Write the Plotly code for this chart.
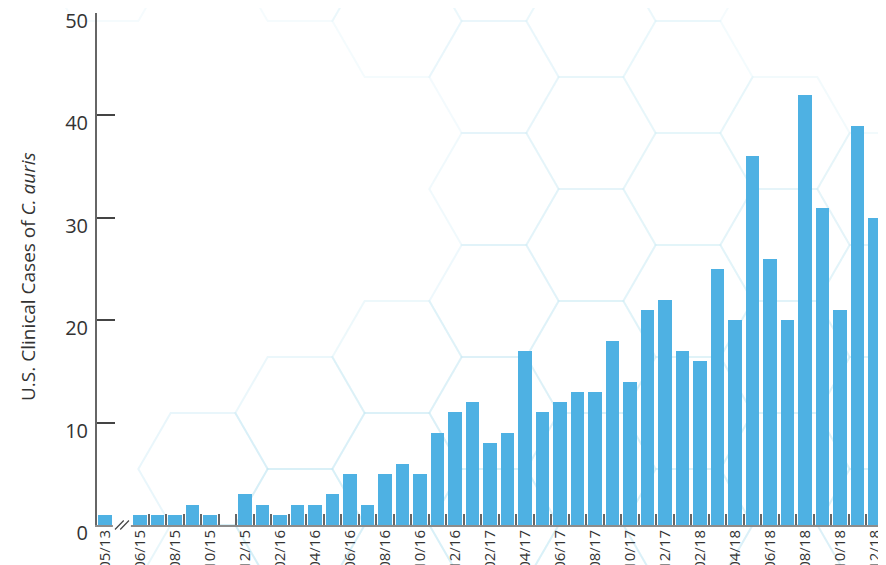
import math
import plotly.graph_objects as go

# ---------------- data ----------------
months = ["05/13",
          "06/15", "07/15", "08/15", "09/15", "10/15", "11/15", "12/15",
          "01/16", "02/16", "03/16", "04/16", "05/16", "06/16", "07/16", "08/16",
          "09/16", "10/16", "11/16", "12/16",
          "01/17", "02/17", "03/17", "04/17", "05/17", "06/17", "07/17", "08/17",
          "09/17", "10/17", "11/17", "12/17",
          "01/18", "02/18", "03/18", "04/18", "05/18", "06/18", "07/18", "08/18",
          "09/18", "10/18", "11/18", "12/18"]
cases = [1,
         1, 1, 1, 2, 1, 0, 3,
         2, 1, 2, 2, 3, 5, 2, 5, 6, 5, 9, 11,
         12, 8, 9, 17, 11, 12, 13, 13, 18, 14, 21, 22,
         17, 16, 25, 20, 36, 26, 20, 42, 31, 21, 39, 30]
y_ticks = [0, 10, 20, 30, 40, 50]
y_title = "U.S. Clinical Cases of <i>C. auris</i>"

# ---------------- layout helpers ----------------
# the page body adds an 8 px offset; work in window pixels and shift
OFF = 8
W, H = 886, 565
PLOT_L, PLOT_R, PLOT_T, PLOT_B = 97, 886, 13, 525   # bar area, window pixels
LBL_SHIFT = 8                                       # y labels sit 8 px below ticks
BOX_B = PLOT_B + 10                                 # bottom of the margin box
ML, MT = PLOT_L - OFF, PLOT_T - OFF
MR = W - (PLOT_R - OFF)
MB = H - (BOX_B - OFF)
PW, BOXH = PLOT_R - PLOT_L, BOX_B - PLOT_T
PH = PLOT_B - PLOT_T
Y_MAX = 50
px_per_unit = PH / Y_MAX

y1_domain = [(BOX_B - PLOT_B) / BOXH, 1]
y2_top = PLOT_T + LBL_SHIFT
y2_domain = [0, (BOX_B - y2_top) / BOXH]
y2_range = [Y_MAX - (BOX_B - y2_top) / px_per_unit, Y_MAX]

GAP = 1  # empty slot after the first bar (axis break)
positions = [0] + [i + 1 + GAP for i in range(len(months) - 1)]
tickvals = [positions[0]] + positions[1::2]
ticktext = [months[0]] + months[1::2]
minor_vals = [p + 0.5 for p in positions[1:-1]]

SLOT_PX = 17.5
X0 = -(105 - PLOT_L) / SLOT_PX
X1 = X0 + PW / SLOT_PX


def xp(px):
    return (px - PLOT_L) / PW


def yp(py):
    return (BOX_B - py) / BOXH


def slot_paper(s):
    return (s - X0) / (X1 - X0)


fig = go.Figure()
fig.add_trace(go.Bar(x=positions, y=cases, width=0.75,
                     marker=dict(color="#4eb1e3", line=dict(width=0)),
                     hoverinfo="skip", showlegend=False))
# empty trace so the label axis exists
fig.add_trace(go.Scatter(x=[], y=[], yaxis="y2", showlegend=False, hoverinfo="skip"))

shapes = []
# decorative honeycomb background
S, HH = 64.67, 56.0
for k in range(-1, 8):
    cx = 203 + 97 * k
    base = 21 if k % 2 == 0 else 77
    for j in range(-2, 7):
        cy = base + 112 * j
        if cy < -40 or cy > 600:
            continue
        # cells left out (blank area in the upper left / right edge)
        if k == -1 and cy > 0:
            continue
        if k in (0, 1, 2) and (56 * k - 40) < cy < (469 - 56 * k):
            continue
        if (k, cy) in [(6, 21), (7, -35), (7, 77)]:
            continue
        pts = [(cx - S, cy), (cx - S / 2, cy - HH), (cx + S / 2, cy - HH),
               (cx + S, cy), (cx + S / 2, cy + HH), (cx - S / 2, cy + HH)]
        path = "M " + " L ".join(f"{xp(a):.5f},{yp(b):.5f}" for a, b in pts) + " Z"
        t = min(max((cy + 35) / 560, 0), 1)
        a = 0.10 + 0.16 * t * (1 - 0.35 * cx / 886)
        shapes.append(dict(type="path", xref="paper", yref="paper", path=path,
                           line=dict(color=f"rgba(160,218,236,{a:.3f})", width=2),
                           layer="below"))

# axis break: gap in the baseline + two slashes
shapes.append(dict(type="rect", xref="paper", yref="paper",
                   x0=slot_paper(0.45), x1=slot_paper(1.48),
                   y0=yp(528), y1=yp(522.5),
                   fillcolor="white", line=dict(width=0), layer="above"))
for off in (0.0, 0.3):
    shapes.append(dict(type="line", xref="paper", yref="paper",
                       x0=slot_paper(0.57 + off), y0=yp(529.5),
                       x1=slot_paper(1.07 + off), y1=yp(520.5),
                       line=dict(color="#444444", width=1.2), layer="above"))

FONT = "'Open Sans', Lato, sans-serif"
fig.update_layout(
    width=W, height=H,
    margin=dict(l=ML, r=MR, t=MT, b=MB, autoexpand=False),
    paper_bgcolor="white", plot_bgcolor="rgba(0,0,0,0)",
    font=dict(family=FONT, color="#333333"),
    shapes=shapes,
    bargap=0,
    xaxis=dict(range=[X0, X1], showgrid=False, zeroline=False, automargin=False,
               anchor="y",
               showline=True, linecolor="#8c8c8c", linewidth=2,
               tickmode="array", tickvals=tickvals, ticktext=ticktext,
               ticks="", tickangle=-90, tickfont=dict(size=15, color="#333333"),
               ticklabeloverflow="allow", ticklabelstandoff=-3,
               minor=dict(tickmode="array", tickvals=minor_vals, ticks="inside",
                          ticklen=11, tickwidth=2, tickcolor="#666666", showgrid=False)),
    yaxis=dict(domain=y1_domain, range=[0, Y_MAX], showgrid=False, zeroline=False,
               automargin=False, anchor="x",
               showline=True, linecolor="#666666", linewidth=1.5,
               tickmode="array", tickvals=y_ticks, showticklabels=False,
               ticks="inside", ticklen=18, tickwidth=1.5, tickcolor="#444444"),
    yaxis2=dict(domain=y2_domain, range=y2_range, side="left",
                anchor="x", showgrid=False, zeroline=False, showline=False,
                automargin=False, tickmode="array", tickvals=y_ticks, ticks="",
                tickfont=dict(size=20, color="#333333"), ticklabelstandoff=8,
                ticklabeloverflow="allow"),
    annotations=[dict(text=y_title, xref="paper", yref="paper",
                      x=xp(28), y=yp(277), xanchor="center", yanchor="middle",
                      textangle=-90, showarrow=False,
                      font=dict(size=19, color="#333333", family=FONT))],
)

fig.write_html("out.html")
